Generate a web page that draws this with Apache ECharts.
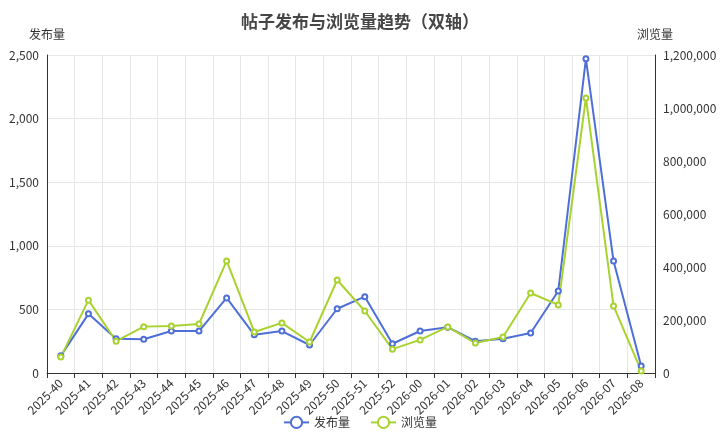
<!DOCTYPE html>
<html><head><meta charset="utf-8">
<script src="https://cdn.jsdelivr.net/npm/echarts@6/dist/echarts.min.js"></script>
<style>html,body{margin:0;padding:0}#c{width:720px;height:438px}</style>
</head><body><div id="c"></div>
<script>
const categories = ['2025-40','2025-41','2025-42','2025-43','2025-44','2025-45','2025-46','2025-47','2025-48','2025-49','2025-50','2025-51','2025-52','2026-00','2026-01','2026-02','2026-03','2026-04','2026-05','2026-06','2026-07','2026-08'];
const posts = [135,465,270,265,330,330,590,300,330,220,505,600,230,330,360,250,270,315,645,2470,880,55];
const views = [60000,275000,120000,175000,177000,185000,423000,155000,189000,117000,351000,234000,90000,125000,174000,113000,136000,302000,257000,1038000,253000,8000];
const chart = echarts.init(document.getElementById('c'));
const ff = '"Noto Sans CJK SC","Noto Sans",sans-serif';
chart.setOption({
  textStyle:{fontFamily:ff},
  title:{text:'帖子发布与浏览量趋势（双轴）',left:'center',top:8,textStyle:{fontSize:17,fontWeight:'bold',color:'#464646',fontFamily:ff}},
  legend:{bottom:4,itemGap:20,textStyle:{color:'#333',fontSize:12},data:['发布量','浏览量']},
  grid:{left:47,right:65,top:55,bottom:65},
  xAxis:{type:'category',data:categories,boundaryGap:true,
    axisLabel:{rotate:45,color:'#333',fontSize:12,interval:0},
    axisLine:{lineStyle:{color:'#333'}},axisTick:{show:true},
    splitLine:{show:true,lineStyle:{color:'#e6e6e6'}}},
  yAxis:[
    {type:'value',name:'发布量',min:0,max:2500,interval:500,nameTextStyle:{color:'#333',align:'right',padding:[0,-18,0,0]},
     axisLabel:{color:'#333'},splitLine:{lineStyle:{color:'#e6e6e6'}},axisLine:{show:true,lineStyle:{color:'#333'}}},
    {type:'value',name:'浏览量',min:0,max:1200000,interval:200000,nameTextStyle:{color:'#333',align:'left',padding:[0,0,0,-18]},
     axisLabel:{color:'#333',formatter:v=>v.toLocaleString('en-US')},splitLine:{show:false},axisLine:{show:true,lineStyle:{color:'#333'}}}
  ],
  series:[
    {name:'发布量',type:'line',data:posts,yAxisIndex:0,symbol:'emptyCircle',symbolSize:5,
     itemStyle:{color:'#4f6fd8'},lineStyle:{width:2,color:'#4f6fd8'}},
    {name:'浏览量',type:'line',data:views,yAxisIndex:1,symbol:'emptyCircle',symbolSize:5,
     itemStyle:{color:'#a9d230'},lineStyle:{width:2,color:'#a9d230'}}
  ]
});
</script></body></html>
